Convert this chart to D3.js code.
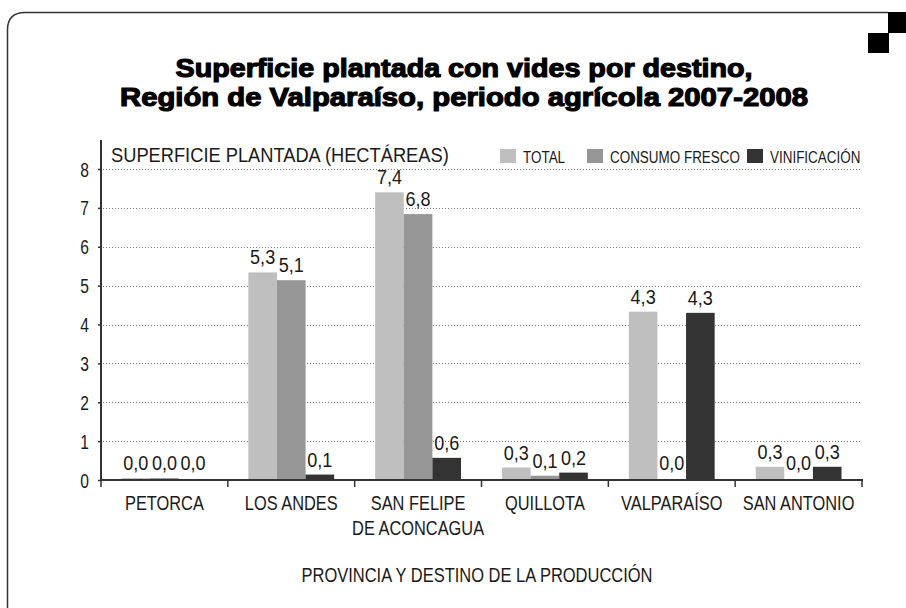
<!DOCTYPE html>
<html>
<head>
<meta charset="utf-8">
<script src="https://cdn.jsdelivr.net/npm/d3@7"></script>
<style>
  body { margin: 0; background: #fff; }
  svg text { font-family: "Liberation Sans", Arial, sans-serif; fill: #1a1a1a; }
</style>
</head>
<body>
<div id="chart"></div>
<script>
const categories = [["PETORCA"], ["LOS ANDES"], ["SAN FELIPE", "DE ACONCAGUA"], ["QUILLOTA"], ["VALPARAÍSO"], ["SAN ANTONIO"]];
const series = ["TOTAL", "CONSUMO FRESCO", "VINIFICACIÓN"];
const total = [0.049, 5.34, 7.40, 0.32, 4.33, 0.34];
const consumo = [0.049, 5.14, 6.84, 0.11, 0.0, 0.0];
const vinificacion = [0.0, 0.14, 0.57, 0.19, 4.30, 0.34];
const yTicks = [0, 1, 2, 3, 4, 5, 6, 7, 8];

const colors = d3.scaleOrdinal().domain(series).range(["#bfbfbf", "#969696", "#333333"]);

const W = 906, H = 608;
const svg = d3.select("#chart").append("svg").attr("width", W).attr("height", H);

// squeeze Liberation Sans into a condensed look
function condense(sel, f) {
  sel.each(function () {
    const w = this.getComputedTextLength();
    d3.select(this).attr("textLength", w * f).attr("lengthAdjust", "spacingAndGlyphs");
  });
}

// frame
svg.append("path")
  .attr("d", "M7.5,640 L7.5,30 Q7.5,12.5 25,12.5 L888,12.5")
  .attr("fill", "none").attr("stroke", "#333").attr("stroke-width", 1.5);
svg.append("rect").attr("x", 888).attr("y", 12).attr("width", 18).attr("height", 21).attr("fill", "#000");
svg.append("rect").attr("x", 868).attr("y", 33).attr("width", 21).attr("height", 20).attr("fill", "#000");

// title
const titleLines = ["Superficie plantada con vides por destino,", "Región de Valparaíso, periodo agrícola 2007-2008"];
const titleW = [577, 688];
const titleY = [76.5, 106];
svg.selectAll(".title").data(titleLines).join("text").attr("class", "title")
  .attr("x", (d, i) => 464 - titleW[i] / 2).attr("y", (d, i) => titleY[i])
  .attr("font-weight", "bold").attr("font-size", 26.5)
  .attr("textLength", (d, i) => titleW[i]).attr("lengthAdjust", "spacingAndGlyphs")
  .style("fill", "#000").style("stroke", "#000").style("stroke-width", 1.2)
  .text(d => d);

const x0 = d3.scaleBand().domain(d3.range(categories.length)).range([101, 862]);
const x1 = d3.scaleBand().domain(series).range([20.5, x0.bandwidth() - 20.5]);
const y = d3.scaleLinear().domain([0, 8]).range([480, 169]);

// grid
svg.append("g").selectAll("line").data(yTicks.slice(1)).join("line")
  .attr("x1", 103).attr("x2", 860)
  .attr("y1", d => Math.round(y(d)) + 0.5).attr("y2", d => Math.round(y(d)) + 0.5)
  .attr("stroke", "#777").attr("stroke-width", 1).attr("stroke-dasharray", "1,2");

// y axis
const yAxis = svg.append("g").attr("transform", "translate(101,0)")
  .call(d3.axisLeft(y).tickValues(yTicks).tickSize(3).tickPadding(9).tickFormat(d3.format("d")));
yAxis.select(".domain").remove();
yAxis.selectAll("line").attr("stroke", "#333").attr("stroke-width", 1.5);
yAxis.selectAll("text").attr("font-size", 19.5).attr("dy", "0.36em").style("fill", "#1a1a1a")
  .call(condense, 0.8);
svg.append("line").attr("x1", 101).attr("x2", 101).attr("y1", 140).attr("y2", 481)
  .attr("stroke", "#333").attr("stroke-width", 2);

// bars
const rows = categories.map((c, i) => ({ i, vals: [total[i], consumo[i], vinificacion[i]] }));
const fmt = v => d3.format(".1f")(v).replace(".", ",");
const groups = svg.append("g").selectAll("g").data(rows).join("g")
  .attr("transform", d => `translate(${x0(d.i)},0)`);
groups.selectAll("rect").data(d => d.vals.map((v, k) => ({ s: series[k], v }))).join("rect")
  .attr("x", d => x1(d.s)).attr("width", x1.bandwidth())
  .attr("y", d => y(d.v)).attr("height", d => y(0) - y(d.v))
  .attr("fill", d => colors(d.s));
groups.selectAll("text").data(d => d.vals.map((v, k) => ({ s: series[k], v }))).join("text")
  .attr("x", d => x1(d.s) + x1.bandwidth() / 2)
  .attr("y", d => Math.min(y(d.v), 478) - 8)
  .attr("text-anchor", "middle").attr("font-size", 20.5)
  .text(d => fmt(d.v))
  .call(condense, 0.88);

// x axis
const xAxis = svg.append("g").attr("transform", "translate(0,480)");
xAxis.append("line").attr("x1", 100).attr("x2", 863).attr("stroke", "#333").attr("stroke-width", 2);
xAxis.selectAll(".tk").data(d3.range(categories.length + 1)).join("line").attr("class", "tk")
  .attr("x1", d => d < categories.length ? x0(d) : 862).attr("x2", d => d < categories.length ? x0(d) : 862)
  .attr("y1", 0).attr("y2", 7).attr("stroke", "#333").attr("stroke-width", 1.5);
const catLines = categories.flatMap((c, i) => c.map((t, j) => ({ t, i, j })));
xAxis.selectAll(".cl").data(catLines).join("text").attr("class", "cl")
  .attr("x", d => x0(d.i) + x0.bandwidth() / 2)
  .attr("y", d => 30 + d.j * 25)
  .attr("text-anchor", "middle").attr("font-size", 19.5)
  .text(d => d.t)
  .call(condense, 0.84);

// axis titles
svg.append("text").attr("x", 111).attr("y", 162).attr("font-size", 21)
  .text("SUPERFICIE PLANTADA (HECTÁREAS)").call(condense, 0.87);
svg.append("text").attr("x", 477).attr("y", 582).attr("text-anchor", "middle").attr("font-size", 19.5)
  .text("PROVINCIA Y DESTINO DE LA PRODUCCIÓN").call(condense, 0.845);

// legend
const legX = [500, 587, 747];
const leg = svg.append("g").selectAll("g").data(series).join("g")
  .attr("transform", (d, i) => `translate(${legX[i]},149)`);
leg.append("rect").attr("width", 16).attr("height", 14).attr("fill", d => colors(d));
leg.append("text").attr("x", 23).attr("y", 14).attr("font-size", 16).text(d => d).call(condense, 0.84);
</script>
</body>
</html>
